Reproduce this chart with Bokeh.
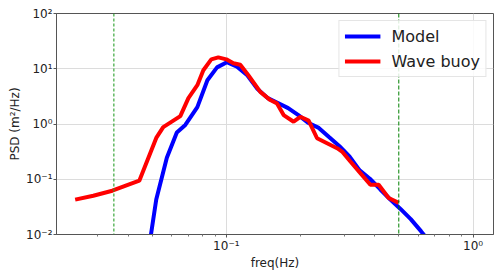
from bokeh.plotting import figure
from bokeh.models import Range1d, Span, FixedTicker, CustomJSTickFormatter, Legend, LegendItem
from bokeh.embed import file_html
from bokeh.resources import INLINE

# ---- data ----
buoy_freq = [0.0244, 0.0289, 0.0345, 0.0444, 0.052, 0.0555, 0.0651, 0.0702, 0.0763, 0.0807,
             0.0869, 0.0928, 0.1, 0.1068, 0.1139, 0.1228, 0.1373, 0.1508, 0.1605, 0.1707,
             0.1874, 0.1995, 0.2156, 0.2332, 0.256, 0.2811, 0.2944, 0.3183, 0.3494, 0.3835,
             0.4143, 0.4549, 0.4995]
buoy_psd = [0.0428, 0.0504, 0.062, 0.094, 0.56, 0.88, 1.39, 2.94, 5.04, 9.4,
            14.8, 16.1, 14.8, 12.6, 11.8, 7.64, 3.82, 2.71, 2.36, 1.45,
            1.10, 1.35, 1.15, 0.552, 0.449, 0.365, 0.317, 0.209, 0.129, 0.0796,
            0.0796, 0.0458, 0.0373]

model_freq = [0.0473, 0.052, 0.0574, 0.063, 0.0682, 0.0763, 0.0838, 0.0917, 0.1005, 0.1105,
              0.1216, 0.1338, 0.1472, 0.1619, 0.1781, 0.1959, 0.2155, 0.237, 0.2607, 0.2868,
              0.3155, 0.347, 0.3817, 0.42, 0.462, 0.508, 0.559, 0.615, 0.676]
model_psd = [0.0026, 0.043, 0.244, 0.70, 0.96, 2.02, 6.2, 10.6, 13.1, 10.9,
             7.6, 4.3, 2.94, 2.4, 1.94, 1.45, 1.04, 0.85, 0.58, 0.40,
             0.26, 0.145, 0.102, 0.066, 0.043, 0.029, 0.019, 0.0115, 0.0068]

cutoff_freqs = [0.035, 0.5]

x_major = [0.01, 0.1, 1.0]
x_minor = [m * d for d in [0.01, 0.1, 1.0] for m in range(2, 10)]
y_major = [0.01, 0.1, 1.0, 10.0, 100.0]

FONT = "DejaVu Sans"

p = figure(width=500, height=272, x_axis_type="log", y_axis_type="log",
           x_range=Range1d(0.0205, 1.21), y_range=Range1d(0.01, 100),
           output_backend="svg", toolbar_location=None,
           min_border_left=56, min_border_right=7, min_border_top=13, min_border_bottom=37)

p.background_fill_color = "white"
p.border_fill_color = "white"
p.outline_line_color = "#555555"
p.outline_line_width = 1

fmt = CustomJSTickFormatter(code="""
const sup = {'-':'\u207b','0':'\u2070','1':'\u00b9','2':'\u00b2','3':'\u00b3','4':'\u2074',
             '5':'\u2075','6':'\u2076','7':'\u2077','8':'\u2078','9':'\u2079'};
const e = Math.round(Math.log10(tick));
return '10' + String(e).split('').map(c => sup[c]).join('');
""")

p.xaxis.ticker = FixedTicker(ticks=x_major, minor_ticks=x_minor)
p.yaxis.ticker = FixedTicker(ticks=y_major, minor_ticks=[])
for ax in (p.xaxis[0], p.yaxis[0]):
    ax.formatter = fmt
    ax.major_label_text_font = FONT
    ax.major_label_text_font_size = "12px"
    ax.major_label_text_color = "#222222"
    ax.axis_label_text_font = FONT
    ax.axis_label_text_font_size = "12px"
    ax.axis_label_text_font_style = "normal"
    ax.axis_label_text_color = "#222222"
    ax.axis_line_color = "#555555"
    ax.major_tick_line_color = "#555555"
    ax.minor_tick_line_color = "#777777"
    ax.major_tick_out = 3
    ax.major_tick_in = 0
    ax.minor_tick_out = 2
    ax.minor_tick_in = 0
    ax.major_label_standoff = 1

p.xaxis.axis_label = "freq(Hz)"
p.yaxis.axis_label = "PSD (m\u00b2/Hz)"
p.xaxis.axis_label_standoff = 0
p.yaxis.axis_label_standoff = 1

p.xgrid.grid_line_color = "#dcdcdc"
p.ygrid.grid_line_color = "#dcdcdc"
p.xgrid.minor_grid_line_color = None
p.ygrid.minor_grid_line_color = None

l_model = p.line(model_freq, model_psd, line_color="#0000ff", line_width=4)
l_buoy = p.line(buoy_freq, buoy_psd, line_color="#ff0000", line_width=4)

p.add_layout(Span(location=cutoff_freqs[0], dimension="height", line_color="#2ca02c",
                  line_alpha=0.75, line_width=1.5, line_dash="3 2"))
p.add_layout(Span(location=cutoff_freqs[1], dimension="height", line_color="#008000",
                  line_width=1, line_dash="4 2"))

legend = Legend(items=[LegendItem(label="Model", renderers=[l_model]),
                       LegendItem(label="Wave buoy", renderers=[l_buoy])],
                location="top_right")
legend.label_text_font = FONT
legend.label_text_font_size = "16px"
legend.label_text_color = "#222222"
legend.glyph_width = 36
legend.glyph_height = 20
legend.label_height = 20
legend.label_standoff = 11
legend.spacing = 5
legend.padding = 5
legend.margin = 7
legend.border_line_color = "#cccccc"
legend.border_line_width = 1
legend.background_fill_alpha = 0.85
p.add_layout(legend)

open("out.html", "w").write(file_html(p, INLINE))
